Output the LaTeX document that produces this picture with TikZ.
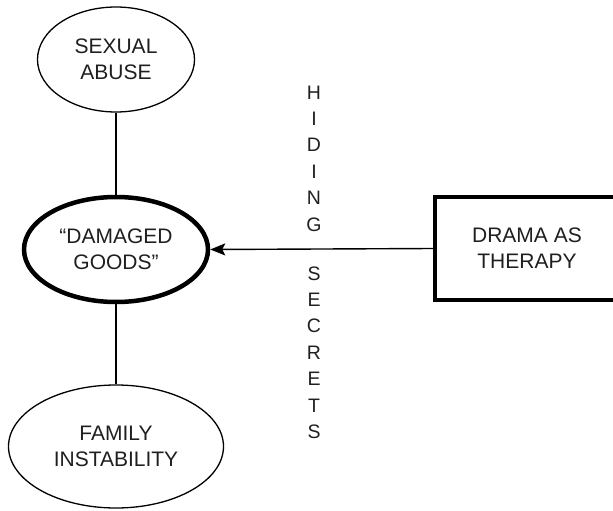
\documentclass[tikz,border=0pt]{standalone}
\usepackage{fontspec}
\setmainfont{Liberation Sans}
\usetikzlibrary{shapes.geometric,arrows.meta}
\tikzset{
  label text/.style={font=\fontsize{21}{26}\selectfont, align=center, text=black!88},
  oval/.style={ellipse, draw, line width=1.3pt, inner sep=0pt, label text},
  thickoval/.style={oval, line width=4.5pt},
  thickbox/.style={rectangle, draw, line width=4.5pt, inner sep=0pt},
  link/.style={line width=1.4pt},
  vword/.style={font=\fontsize{19.5}{26.4}\selectfont, align=center, inner sep=0pt, text=black!88}
}
\begin{document}
\begin{tikzpicture}[x=1pt,y=-1pt]
  \useasboundingbox (0,0) rectangle (613,511);
  % causes and the central label
  \node[oval, minimum width=157pt, minimum height=105pt] (abuse) at (116,59.5) {SEXUAL\\ABUSE};
  \node[thickoval, minimum width=184pt, minimum height=105pt] (damaged) at (116,249.5) {“DAMAGED\\GOODS”};
  \node[oval, minimum width=215pt, minimum height=123pt] (family) at (116,446.5) {FAMILY\\INSTABILITY};
  % intervention box, running past the right edge
  \node[thickbox, minimum width=194pt, minimum height=103pt] (therapy) at (532,248.5) {};
  \node[label text] (therapytext) at (527,248.5) {DRAMA AS\\THERAPY};
  % connectors
  \draw[link] (abuse.south) -- (damaged.north);
  \draw[link] (damaged.south) -- (family.north);
  \draw[link, -{Stealth[length=15pt, width=12pt, inset=3pt]}] (therapy.west) -- (damaged.east);
  % vertical caption across the arrow
  \node[vword] (hiding) at (314,158.5) {H\\I\\D\\I\\N\\G};
  \node[vword] (secrets) at (314,352.5) {S\\E\\C\\R\\E\\T\\S};
\end{tikzpicture}
\end{document}
